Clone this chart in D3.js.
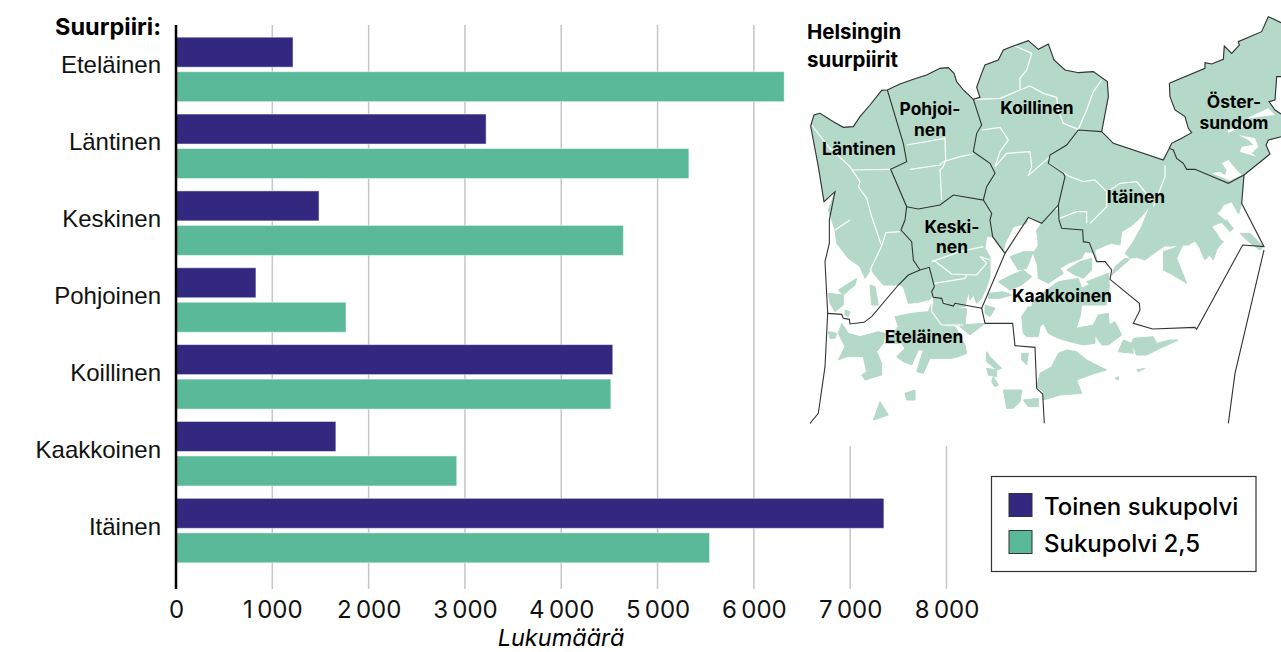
<!DOCTYPE html>
<html lang="fi">
<head>
<meta charset="utf-8">
<title>Suurpiirit</title>
<script src="https://cdn.jsdelivr.net/npm/d3@7"></script>
<style>
    html, body { margin: 0; padding: 0; background: #fff; }
    svg { display: block; font-family: Inter, "Noto Sans", sans-serif; color: #111; }
    .tick text { font-size: 24px; fill: #111; }
    .district { font-size: 25.5px; fill: #111; }
    .maplabel { font-size: 17.4px; font-weight: 700; fill: #000; text-anchor: middle; }
</style>
</head>
<body>
<div id="chart"></div>
<script>
// Data
const districts = ['Eteläinen', 'Läntinen', 'Keskinen', 'Pohjoinen', 'Koillinen', 'Kaakkoinen', 'Itäinen'];
const secondGen = [1215, 3220, 1485, 830, 4535, 1660, 7350];
const genTwoFive = [6315, 5325, 4645, 1765, 4515, 2915, 5540];
const xTicks = [0, 1000, 2000, 3000, 4000, 5000, 6000, 7000, 8000];
const seriesNames = ['Toinen sukupolvi', 'Sukupolvi 2,5'];

// Kartan muodot (kartan omat yksikot)
const landShapes = [
    // Lansi + pohjoinen + koillinen + ita, mantere
    [[32,348],[42,315],[60,310],[100,335],[130,352],[160,350],[180,320],[210,285],[245,241],[262,240],[300,222],[340,208],[380,195],[420,175],[445,173],[462,190],[470,215],[490,240],[520,268],[540,262],[530,232],[545,190],[555,165],[595,150],[610,120],[640,108],[685,92],[715,118],[745,102],[762,150],[795,180],[835,188],[880,185],[922,215],[925,260],[905,365],[940,400],[1090,450],[1108,415],[1120,420],[1130,445],[1150,460],[1160,478],[1185,478],[1285,520],[1332,495],[1325,580],[1316,612],[1295,575],[1270,585],[1262,600],[1250,610],[1280,635],[1255,640],[1235,650],[1250,670],[1262,690],[1270,695],[1255,712],[1250,720],[1240,750],[1228,735],[1215,750],[1205,730],[1200,715],[1185,692],[1165,705],[1140,705],[1115,708],[1095,708],[1075,720],[1055,735],[1035,750],[1010,742],[990,745],[975,730],[1000,695],[1025,650],[1045,600],[1055,580],[1040,600],[1020,625],[990,650],[965,665],[960,705],[935,700],[920,705],[885,720],[885,740],[893,755],[885,730],[870,698],[848,695],[845,660],[780,645],[775,600],[775,585],[725,640],[685,622],[680,640],[640,650],[615,700],[610,725],[578,680],[560,680],[555,715],[570,740],[570,800],[558,835],[545,865],[530,880],[520,855],[510,870],[505,845],[495,890],[460,888],[425,870],[395,860],[385,875],[325,880],[310,830],[300,825],[250,825],[220,790],[215,775],[195,805],[180,770],[145,745],[110,700],[105,660],[85,600],[105,545],[72,575],[55,470]],
    // Herttoniemi
    [[755,600],[775,600],[780,645],[845,660],[848,695],[870,698],[885,730],[855,725],[845,745],[805,760],[780,775],[790,790],[745,820],[715,805],[712,765],[700,730],[715,705],[710,660]],
    // Ostersundom
    [[1108,220],[1215,175],[1215,158],[1235,162],[1270,148],[1273,108],[1295,130],[1318,105],[1315,95],[1385,65],[1405,20],[1443,38],[1443,200],[1430,200],[1425,270],[1407,275],[1425,300],[1443,312],[1443,380],[1405,390],[1398,405],[1410,432],[1332,495],[1285,520],[1185,478],[1160,478],[1150,460],[1130,445],[1120,420],[1108,415],[1115,400],[1145,385],[1175,368],[1165,355],[1155,320],[1125,300],[1110,260]],
    // Etelainen, keskiosa
    [[285,920],[335,910],[385,905],[395,880],[420,905],[435,950],[465,950],[480,975],[495,1005],[500,1030],[475,1040],[455,1045],[390,1045],[370,1090],[350,1085],[370,1020],[355,1020],[335,1065],[310,1055],[290,1040],[315,1015],[305,1000],[255,1000],[295,950]],
    [[400,865],[425,868],[430,882],[460,890],[500,897],[495,945],[430,945],[405,925]],
    [[480,945],[555,940],[510,975],[480,950]],
    // Lauttasaari
    [[125,940],[145,970],[180,980],[235,965],[255,970],[250,1000],[230,1025],[245,1060],[245,1095],[195,1110],[185,1095],[200,1085],[190,1040],[165,1040],[140,1040],[115,1050],[135,1010],[115,970]],
    // Lansisaaret
    [[115,840],[170,805],[165,825],[130,855]],
    [[85,850],[130,855],[130,885],[105,905],[90,880]],
    [[210,825],[225,830],[235,885],[215,885]],
    [[135,900],[150,905],[145,920],[135,915]],
    [[85,965],[110,970],[105,985],[90,985]],
    // Laajasalo
    [[775,815],[835,805],[845,835],[885,815],[925,790],[928,830],[918,885],[845,885],[840,920],[828,955],[880,945],[895,915],[925,910],[928,945],[945,935],[965,975],[925,1005],[905,1005],[885,975],[885,1000],[850,1005],[810,995],[775,985],[745,970],[730,940],[720,950],[715,980],[680,980],[670,970],[665,920],[685,890],[695,890],[700,870],[720,855]],
    // Santahamina
    [[800,1020],[830,1025],[860,1050],[920,1080],[885,1090],[830,1110],[845,1150],[780,1155],[730,1170],[730,1145],[710,1130],[720,1090],[755,1070],[775,1030]],
    // Muut saaret
    [[630,740],[670,725],[700,725],[680,775],[655,780]],
    [[635,795],[670,780],[695,800],[665,825],[630,840],[595,815]],
    [[565,850],[610,845],[635,855],[600,865],[565,865]],
    [[555,885],[585,895],[570,920],[555,910]],
    [[800,780],[840,755],[875,745],[875,780],[850,805],[825,795]],
    [[860,815],[925,790],[925,835],[880,835]],
    [[970,990],[995,1000],[1000,1030],[955,1025]],
    [[1000,985],[1060,980],[1070,1000],[1110,990],[1135,990],[1080,1015],[1040,1035],[1010,1035],[995,1000]],
    [[665,1030],[685,1030],[680,1065],[665,1050]],
    [[560,1025],[570,1040],[605,1075],[590,1080],[560,1055]],
    [[560,1075],[590,1080],[590,1100],[565,1095]],
    [[580,1100],[595,1125],[585,1130],[575,1115]],
    [[610,1140],[665,1140],[660,1175],[640,1195],[620,1195]],
    [[670,1170],[715,1165],[715,1190],[685,1190]],
    [[315,1150],[345,1140],[345,1170],[320,1170]],
    [[240,1175],[265,1215],[220,1230]],
    [[945,1105],[955,1100],[955,1110]],
    [[1010,1080],[1035,1075],[1015,1085]],
    // Vuosaaren ja Porvarinlahden saaret
    [[1090,725],[1120,715],[1150,700],[1130,745],[1160,820],[1110,790],[1090,780]],
    [[1320,670],[1350,670],[1390,710],[1380,720],[1345,695]],
    [[1268,640],[1280,630],[1300,655],[1290,665]],
    [[935,795],[990,748],[975,745],[945,770]]
];
const waterShapes = [
    [[1405,295],[1425,315],[1380,320],[1350,325],[1330,350],[1285,368],[1282,362],[1320,345],[1350,320]],
    [[1315,375],[1365,385],[1375,410],[1355,430],[1370,440],[1320,425],[1325,410],[1360,405],[1345,390]],
    [[1265,460],[1285,450],[1310,480],[1325,495],[1290,512],[1235,490],[1260,485],[1275,495],[1280,480]],
    [[1280,700],[1295,720],[1280,730]]
];
const blackLines = [
    [[32,348],[42,315],[60,310],[100,335],[130,352],[160,350],[180,320],[210,285],[245,241],[262,240],[300,222],[340,208],[380,195],[420,175],[445,173],[462,190],[470,215],[490,240],[520,268],[540,262],[530,232],[545,190],[555,165],[595,150],[610,120],[640,108],[685,92],[715,118],[745,102],[762,150],[795,180],[835,188],[880,185],[922,215],[925,260],[905,365],[940,400],[1090,450],[1108,415],[1120,420],[1130,445],[1150,460],[1160,478],[1185,478],[1285,520],[1332,495],[1325,580],[1392,710],[1328,705],[1190,958],[1185,952],[1058,957],[1000,940],[1020,900],[1018,880],[930,808],[935,780],[915,755],[890,755],[868,698],[850,695],[848,660],[785,655],[777,630],[775,585],[795,500],[790,490],[745,460],[750,435],[800,405],[835,360],[905,365]],
    [[32,348],[55,470],[72,575],[105,545],[88,630],[88,700],[75,755],[83,910],[75,1070],[55,1210],[30,1240]],
    [[83,910],[125,913],[130,925],[148,928],[150,942],[192,937],[215,920],[295,825],[325,795],[360,780],[388,772],[403,830],[395,845],[400,862],[425,865],[430,880],[460,888],[465,880],[545,895],[555,940],[638,940],[645,1007],[705,1012],[710,1135],[728,1152],[733,1240]],
    [[262,240],[310,400],[320,455],[272,478],[320,590],[315,630],[303,660],[335,695],[340,750],[360,780]],
    [[320,590],[355,597],[420,585],[460,555],[550,570],[560,530],[585,490],[570,460],[520,425],[530,370],[545,345],[520,268]],
    [[550,570],[575,610],[570,630],[578,680],[615,730]],
    [[775,585],[725,640],[685,622],[615,730],[545,895]],
    [[1392,720],[1305,1090],[1285,1240]],
    [[1108,220],[1215,175],[1215,158],[1235,162],[1270,148],[1273,108],[1295,130],[1318,105],[1315,95],[1385,65],[1405,20],[1443,38]],
    [[1108,220],[1110,260],[1125,300],[1155,320],[1165,355],[1175,368],[1145,385],[1115,400],[1108,415]],
    [[1443,200],[1430,200],[1425,270],[1407,275],[1425,300],[1443,312]],
    [[1443,380],[1405,390],[1398,405],[1410,432],[1332,495]]
];
const whiteLines = [
    [[35,345],[85,410],[150,470],[180,515],[175,530],[200,565],[215,620],[245,708],[220,760],[210,780]],
    [[155,480],[270,478]],
    [[245,708],[258,668],[300,665]],
    [[105,660],[150,630]],
    [[320,405],[435,385],[437,450],[430,470],[420,480],[425,570]],
    [[330,478],[420,465],[430,455],[480,440],[520,432]],
    [[525,268],[600,265],[660,240],[690,228],[730,250],[770,262],[775,300],[790,340],[835,358]],
    [[660,240],[660,205],[680,180],[695,130],[645,108]],
    [[835,358],[860,300],[880,245],[905,210]],
    [[545,360],[600,352],[625,390],[600,425],[585,470],[620,430],[690,425],[695,470],[685,497],[750,440]],
    [[745,460],[810,500],[850,515],[885,510],[920,545],[920,590],[870,640]],
    [[1095,465],[1095,500],[1060,590]],
    [[930,540],[960,520],[1010,515],[1055,570]],
    [[778,625],[830,605],[860,605],[860,640]],
    [[395,755],[480,725],[550,710]],
    [[400,750],[455,792],[530,795],[560,760],[540,740],[570,750]],
    [[403,820],[495,805],[500,795]],
    [[320,890],[395,870],[395,905],[425,945],[490,945]]
];
const mapLabels = [
    { lines: ['Pohjoi-', 'nen'], x: 130, y: 105, dy: 21 },
    { lines: ['Koillinen'], x: 237, y: 104 },
    { lines: ['Läntinen'], x: 59, y: 145 },
    { lines: ['Öster-', 'sundom'], x: 434, y: 98, dy: 21 },
    { lines: ['Itäinen'], x: 336, y: 193 },
    { lines: ['Keski-', 'nen'], x: 152, y: 223, dy: 20 },
    { lines: ['Kaakkoinen'], x: 262, y: 292 },
    { lines: ['Eteläinen'], x: 124, y: 333 }
];

// Asetukset
const width = 1281;
const height = 652;
const colors = ['#32287f', '#59b999'];
const axisTop = 25;
const axisBottom = 589;

const svg = d3.select('#chart')
    .append('svg')
    .attr('width', width)
    .attr('height', height);

const x = d3.scaleLinear().domain([0, 8000]).range([176, 946.5]);
const y = d3.scaleBand().domain(districts).range([31, 569]);
const barHeight = 30;
const barGap = 4.5;

const numberFormat = d3.formatLocale({ thousands: '\u2009', grouping: [3], decimal: ',', currency: ['', ''] }).format(',d');

// Ruudukko
svg.append('g')
    .selectAll('line')
    .data(xTicks.slice(1))
    .enter().append('line')
    .attr('x1', d => x(d))
    .attr('x2', d => x(d))
    .attr('y1', axisTop)
    .attr('y2', axisBottom)
    .attr('stroke', '#c6c6c6')
    .attr('stroke-width', 1.5);

// Palkit
const group = svg.append('g')
    .selectAll('g')
    .data(districts)
    .enter().append('g');

group.append('rect')
    .attr('x', x(0))
    .attr('y', d => y(d) + y.bandwidth() / 2 - barGap / 2 - barHeight)
    .attr('width', (d, i) => x(secondGen[i]) - x(0))
    .attr('height', barHeight)
    .attr('fill', colors[0])
    .attr('stroke', '#fff')
    .attr('stroke-opacity', 0.5)
    .attr('stroke-width', 1);

group.append('rect')
    .attr('x', x(0))
    .attr('y', d => y(d) + y.bandwidth() / 2 + barGap / 2)
    .attr('width', (d, i) => x(genTwoFive[i]) - x(0))
    .attr('height', barHeight)
    .attr('fill', colors[1])
    .attr('stroke', '#fff')
    .attr('stroke-opacity', 0.5)
    .attr('stroke-width', 1);

// Akselit
const xAxis = d3.axisBottom(x)
    .tickValues(xTicks)
    .tickSize(0)
    .tickPadding(0)
    .tickFormat(numberFormat);

const xAxisG = svg.append('g')
    .attr('transform', `translate(0,${axisBottom})`)
    .call(xAxis);
xAxisG.select('.domain').remove();
xAxisG.selectAll('text').attr('dy', 29).attr('font-family', 'Inter');

const yAxis = d3.axisLeft(y).tickSize(0).tickPadding(15);
const yAxisG = svg.append('g')
    .attr('transform', `translate(${x(0)},0)`)
    .call(yAxis);
yAxisG.select('.domain').remove();
yAxisG.selectAll('text').attr('class', 'district').attr('dy', 4);

svg.append('line')
    .attr('x1', x(0))
    .attr('x2', x(0))
    .attr('y1', axisTop)
    .attr('y2', axisBottom)
    .attr('stroke', '#000')
    .attr('stroke-width', 2.5);

svg.append('text')
    .attr('x', 161)
    .attr('y', 35)
    .attr('text-anchor', 'end')
    .attr('font-size', 23.5)
    .attr('font-weight', 700)
    .text('Suurpiiri:');

svg.append('text')
    .attr('x', 561)
    .attr('y', 646)
    .attr('text-anchor', 'middle')
    .attr('font-size', 23.5)
    .attr('font-style', 'italic')
    .text('Lukumäärä');

// Kartta
svg.append('rect')
    .attr('x', 800)
    .attr('y', 0)
    .attr('width', width - 800)
    .attr('height', 446)
    .attr('fill', '#fff');

const mapPath = d3.geoPath(d3.geoIdentity().scale(1 / 3).translate([800, 10]));
const asPolygon = ring => ({ type: 'Polygon', coordinates: [ring.concat([ring[0]])] });
const asLine = line => ({ type: 'LineString', coordinates: line });

const mapG = svg.append('g');
mapG.append('clipPath').attr('id', 'mapclip')
    .append('rect').attr('x', 800).attr('y', 0).attr('width', width - 800).attr('height', 424);
const mapInner = mapG.append('g').attr('clip-path', 'url(#mapclip)');

mapInner.selectAll('path.land')
    .data(landShapes)
    .enter().append('path')
    .attr('class', 'land')
    .attr('d', d => mapPath(asPolygon(d)))
    .attr('fill', '#b4d9c8')
    .attr('stroke', '#b4d9c8')
    .attr('stroke-width', 1)
    .attr('stroke-linejoin', 'round');

mapInner.selectAll('path.water')
    .data(waterShapes)
    .enter().append('path')
    .attr('class', 'water')
    .attr('d', d => mapPath(asPolygon(d)))
    .attr('fill', '#fff');

mapInner.selectAll('path.white')
    .data(whiteLines)
    .enter().append('path')
    .attr('class', 'white')
    .attr('d', d => mapPath(asLine(d)))
    .attr('fill', 'none')
    .attr('stroke', '#fff')
    .attr('stroke-width', 1.2);

mapInner.selectAll('path.black')
    .data(blackLines)
    .enter().append('path')
    .attr('class', 'black')
    .attr('d', d => mapPath(asLine(d)))
    .attr('fill', 'none')
    .attr('stroke', '#333')
    .attr('stroke-width', 1.1);

const labels = svg.append('g').attr('transform', 'translate(800,10)');
mapLabels.forEach(d => {
    d.lines.forEach((t, i) => {
        labels.append('text')
            .attr('class', 'maplabel')
            .attr('x', d.x)
            .attr('y', d.y + i * (d.dy || 0))
            .text(t);
    });
});

svg.append('text').attr('x', 807).attr('y', 39).attr('font-size', 20.5).attr('font-weight', 700).text('Helsingin');
svg.append('text').attr('x', 807).attr('y', 67).attr('font-size', 20.5).attr('font-weight', 700).text('suurpiirit');

// Selite
svg.append('rect')
    .attr('x', 991.5)
    .attr('y', 476.5)
    .attr('width', 264.5)
    .attr('height', 95)
    .attr('fill', '#fff')
    .attr('stroke', '#333')
    .attr('stroke-width', 1.2);

const legend = svg.append('g')
    .selectAll('g')
    .data(seriesNames)
    .enter().append('g')
    .attr('transform', (d, i) => `translate(1009,${493.5 + i * 37})`);

legend.append('rect')
    .attr('width', 23)
    .attr('height', 23)
    .attr('fill', (d, i) => colors[i])
    .attr('stroke', '#333')
    .attr('stroke-width', 1);

legend.append('text')
    .attr('x', 35)
    .attr('y', 21)
    .attr('font-size', 24)
    .attr('font-weight', 500)
    .text(d => d);
</script>
</body>
</html>
